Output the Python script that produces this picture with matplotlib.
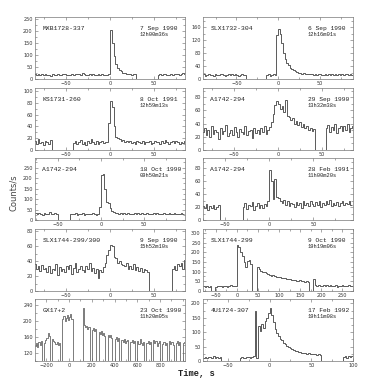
import numpy as np
import matplotlib
matplotlib.use("Agg")
import matplotlib.pyplot as plt
from matplotlib.ticker import AutoMinorLocator

# ---------------- data (counts/s per time bin) ----------------
# MXB1728-337, 2 s bins from -86 s
mxb_t0, mxb_bw = -86, 2
mxb_counts = [22,18,20,15,19,17,21,16,18,14,19,17,15,20,18,16,19,22,17,15,
              18,20,16,23,19,21,17,24,20,18,16,19,15,21,17,18,22,16,19,17,
              15,18,20,
              205,150,95,62,45,38,32,27,24,22,20,23,18,21,19,
              0,0,0,0,0,0,0,0,0,0,0,0,
              17,20,15,19,21,16,18,22,17,20,19,23,18,21,24,19]

# SLX1732-304, 2 s bins from -90 s
slx32_t0, slx32_bw = -90, 2
slx32_counts = [14,10,13,16,11,12,9,15,13,11,14,17,12,10,13,15,11,14,12,16,
                13,10,12,14,11,13,
                0,0,0,0,0,0,0,0,0,0,0,0,
                12,14,10,13,15,11,
                135,155,140,110,80,62,50,42,35,30,27,24,22,20,19,17,18,16,15,17,
                14,15,13,16,12,14,15,11,13,16,12,14,13,15,11,14,12,16,13,15,
                12,14,17,13,15,12]

# KS1731-260, 2 s bins from -86 s
ks_t0, ks_bw = -86, 2
ks_counts = [15,10,18,12,14,9,16,13,11,17,
             0,0,0,0,0,0,0,0,0,0,0,0,
             12,15,10,14,17,11,13,9,16,12,18,14,11,15,10,13,16,12,14,
             14,45,83,72,40,22,20,18,16,17,14,15,13,16,12,14,11,15,13,12,
             16,10,14,13,15,11,12,16,13,14,10,15,12,17,13,11,14,16,12,15,
             13,11,14,12,15]

# A1742-294 (29 Sep 1990), 2 s bins from -86 s
a29_t0, a29_bw = -86, 2
a29_counts = [28,34,22,30,19,36,25,31,27,17,33,24,29,38,21,26,30,23,35,28,
              20,32,27,25,37,22,29,31,18,34,26,30,24,33,28,36,25,30,35,
              42,55,68,74,70,62,66,58,76,52,50,45,48,40,44,38,42,35,39,33,
              36,30,34,29,32,
              0,0,0,0,0,0,
              33,38,27,35,30,40,26,34,37,29,36,31,39,28,33,37]

# A1742-294 (18 Oct 1990), 2 s bins from -76 s
a18_t0, a18_bw = -76, 2
a18_counts = [32,28,35,30,26,33,29,31,36,27,30,34,29,
              0,0,0,0,0,0,0,
              27,31,29,33,26,30,28,32,25,29,31,27,30,34,28,26,31,
              60,215,220,150,85,80,55,42,36,33,35,31,34,30,32,29,33,28,31,30,
              35,27,32,29,34,30,28,33,31,29,27,32,30,34,28,31,29,33,27,30,
              32,28,31,34,29,27,30,33,28]

# A1742-294 (28 Feb 1991), 2 s bins from -76 s
a28_t0, a28_bw = -76, 2
a28_counts = [22,18,25,15,21,19,24,17,20,23,
              0,0,0,0,0,0,0,0,0,0,0,0,0,
              20,26,17,24,21,28,15,22,27,19,23,18,25,21,
              30,78,60,32,64,36,34,30,27,31,24,29,22,27,25,20,28,23,26,19,
              30,24,27,21,29,25,22,28,24,30,20,26,23,29,25,31,22,27,24,28,
              21,26,30,23,27,25,29,24]

# SLX1744-299/300, 2 s bins from -86 s
slx300_t0, slx300_bw = -86, 2
slx300_counts = [36,30,33,27,35,29,31,26,34,24,30,28,36,22,32,27,30,25,33,29,
                 35,23,31,38,26,30,33,28,25,34,29,37,27,31,24,30,18,28,26,32,
                 38,48,55,62,60,45,44,38,40,36,35,33,38,30,34,29,36,28,32,27,
                 31,25,30,28,26,
                 0,0,0,0,0,0,0,0,0,0,0,0,0,
                 30,34,28,36,33,38,30,42]

# SLX1744-299, 4 s bins from -80 s
slx299_t0, slx299_bw = -80, 4
slx299_counts = [24,20,27,22,25,
                 0,0,
                 22,26,24,28,21,25,27,23,26,29,24,27,25,
                 240,225,200,180,150,125,155,160,140,
                 0,0,0,
                 122,112,105,98,100,92,88,85,80,82,76,74,70,72,67,65,68,62,60,63,
                 58,56,59,54,52,55,50,53,48,51,47,
                 0,0,
                 62,30,27,32,28,25,30,26,29,24,31,27,25,29,23,28,26,30,24,27,
                 25,29,26,28]

# GX17+2, 10 s bins from -300 s
gx_t0, gx_bw = -300, 10
gx_counts = [138,145,136,148,141,150, 0,0,
             146,152,158,170,162, 0,0,
             155,150,147,142,148,140,145, 0,0,
             205,212,200,208,215,203,210,218,206,
             0,0,0,0,0,0,0,0,0,
             232, 190,184,188,180,186, 0,0,
             178,182,175,180, 0,0,
             172,168,175,165,170,163, 0,0,
             166,160,164,158, 0,0,
             155,160,150,157, 0,0,
             152,148,155,145,150,153, 0,0,
             147,152,144,149, 0,0,
             150,143,155,146,141,148, 0,0,
             145,151,142,148, 0,0,
             152,144,149,138,146,150, 0,0,
             143,148,140,146, 0,0,
             149,142,147,140, 0,0,
             145,150,141,147, 0,0,
             144,148]

# 4U1724-307, 2 s bins from -80 s
u1724_t0, u1724_bw = -80, 2
u1724_counts = [12,15,10,14,13,11,16,12,14,10,13,
                0,0,0,0,0,0,0,0,0,0,0,
                11,14,12,10,15,13,12,14,
                16,172,10,120,105,128,115,140,150,168,
                185,160,135,112,98,88,78,72,62,58,
                52,48,44,40,38,35,33,30,32,28,
                27,29,25,27,24,26,23,25,22,24,21,
                0,0,0,0,0,0,0,0,0,0,0,0,0,
                14,17,12,16,13,18]

# labels
names = ["MXB1728-337", "SLX1732-304", "KS1731-260", "A1742-294", "A1742-294",
         "A1742-294", "SLX1744-299/300", "SLX1744-299", "GX17+2", "4U1724-307"]
dates = ["7 Sep 1990", "6 Sep 1990", "8 Oct 1991", "29 Sep 1990", "18 Oct 1990",
         "28 Feb 1991", "9 Sep 1990", "9 Oct 1990", "23 Oct 1990", "17 Feb 1992"]
times = ["12h00m36s", "12h16m01s", "12h59m13s", "13h32m38s", "09h50m21s",
         "11h00m20s", "15h52m10s", "19h19m06s", "11h20m05s", "19h11m08s"]

xticks_pm50 = [-50, 0, 50]
xticks_slx299 = [-50, 0, 50, 100, 150, 200, 250]
xticks_gx = [-200, 0, 200, 400, 600, 800]
xticks_u1724 = [-50, 0, 50, 100]
yticks_250 = [0, 50, 100, 150, 200, 250]
yticks_160 = [0, 40, 80, 120, 160]
yticks_100 = [0, 20, 40, 60, 80, 100]
yticks_80 = [0, 20, 40, 60, 80]
yticks_300 = [0, 50, 100, 150, 200, 250, 300]
yticks_gx = [120, 160, 200, 240]
yticks_200 = [0, 50, 100, 150, 200]

panels = [
    # (counts, t0, bw, xlim, ylim, xticks, yticks)
    (mxb_counts, mxb_t0, mxb_bw, (-85, 85), (0, 260), xticks_pm50, yticks_250),
    (slx32_counts, slx32_t0, slx32_bw, (-90, 90), (0, 192), xticks_pm50, yticks_160),
    (ks_counts, ks_t0, ks_bw, (-85, 85), (0, 105), xticks_pm50, yticks_100),
    (a29_counts, a29_t0, a29_bw, (-85, 85), (0, 94), xticks_pm50, yticks_80),
    (a18_counts, a18_t0, a18_bw, (-76, 97), (0, 296), xticks_pm50, yticks_250),
    (a28_counts, a28_t0, a28_bw, (-75, 95), (0, 96), xticks_pm50, yticks_80),
    (slx300_counts, slx300_t0, slx300_bw, (-85, 85), (0, 83), xticks_pm50, yticks_80),
    (slx299_counts, slx299_t0, slx299_bw, (-80, 275), (0, 320), xticks_slx299, yticks_300),
    (gx_counts, gx_t0, gx_bw, (-300, 1020), (100, 255), xticks_gx, yticks_gx),
    (u1724_counts, u1724_t0, u1724_bw, (-80, 100), (0, 215), xticks_u1724, yticks_200),
]

W = 385.0
col_x = [35, 203]
row_top = [17, 88, 158, 229, 299]
pw, ph = 150, 62

fig = plt.figure(figsize=(3.85, 3.85), dpi=100)
mono = ["Liberation Mono", "DejaVu Sans Mono"]

for i, (cnt, t0, bw, xl, yl, xt, yt) in enumerate(panels):
    r, c = i // 2, i % 2
    ax = fig.add_axes([col_x[c] / W, 1 - (row_top[r] + ph) / W, pw / W, ph / W])
    cnt = np.asarray(cnt, dtype=float)
    edges = t0 + bw * np.arange(len(cnt) + 1)
    lw = 0.4 if i == 8 else 0.5
    ax.stairs(cnt, edges, baseline=None, color="#1a1a1a", lw=lw)
    ax.set_xlim(*xl)
    ax.set_ylim(*yl)
    ax.set_xticks(xt)
    ax.set_yticks(yt)
    ax.xaxis.set_minor_locator(AutoMinorLocator(2))
    ax.yaxis.set_minor_locator(AutoMinorLocator(2))
    ax.tick_params(which="both", direction="in", top=True, right=True,
                   width=0.4, colors="#666666", labelcolor="#333333")
    ax.tick_params(which="major", length=2.2, labelsize=3.6, pad=1.6)
    ax.tick_params(which="minor", length=1.2)
    for s in ax.spines.values():
        s.set_linewidth(0.5)
        s.set_color("#777777")
    ax.text(0.05, 0.82, names[i], transform=ax.transAxes, ha="left", va="center",
            fontsize=4.6, family=mono, color="#222222")
    ax.text(0.70, 0.82, dates[i], transform=ax.transAxes, ha="left", va="center",
            fontsize=4.5, family=mono, color="#222222")
    ax.text(0.70, 0.725, times[i], transform=ax.transAxes, ha="left", va="center",
            fontsize=3.9, family=mono, color="#222222")

fig.text(0.034, 0.5, "Counts/s", rotation=90, ha="center", va="center",
         fontsize=6.0, color="#444444")
fig.text(0.51, 0.031, "Time, s", ha="center", va="center", fontsize=6.3,
         family=mono, fontweight="bold", color="#222222")

fig.savefig("out.png", dpi=100)
